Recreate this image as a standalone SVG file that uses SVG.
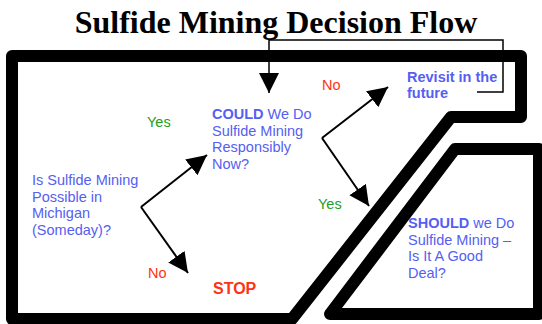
<svg xmlns="http://www.w3.org/2000/svg" width="542" height="324" viewBox="0 0 542 324">
<style>
.frame{fill:none;stroke:#000;stroke-width:12;stroke-linejoin:round}
.t{font-family:"Liberation Sans",Arial,sans-serif;font-size:14.5px}
.blue{fill:#5560f2}
.green{fill:#22a022}
.red{fill:#ff3311}
.b{font-weight:bold}
.conn{fill:none;stroke:#000;stroke-width:2}
.thin{fill:none;stroke:#000;stroke-width:1.5}
</style>
<defs>
<marker id="ah" markerUnits="userSpaceOnUse" markerWidth="22" markerHeight="22" viewBox="0 0 22 22" refX="20" refY="10" orient="auto">
<path d="M0,0 L20,10 L0,20 Z" fill="#000"/>
</marker>
</defs>
<rect width="542" height="324" fill="#fff"/>
<text x="276" y="33" text-anchor="middle" font-family="Liberation Serif,'Times New Roman',serif" font-weight="bold" font-size="32">Sulfide Mining Decision Flow</text>
<g id="frame-main"><path class="frame" d="M12,56 L521,56 L521,117 L451,117 L292,319 L12,319 Z"/></g>
<g id="frame-should"><path class="frame" d="M455,149 L539,149 L539,314 L330,314 Z"/></g>
<g id="connectors">
<polyline class="conn" points="141,207 207,155" marker-end="url(#ah)"/>
<polyline class="conn" points="141,207 188,273" marker-end="url(#ah)"/>
<polyline class="conn" points="322,138 388,87" marker-end="url(#ah)"/>
<polyline class="conn" points="322,138 369,206" marker-end="url(#ah)"/>
<polyline class="thin" points="477,92 503,92 503,40 269,40 269,93" marker-end="url(#ah)"/>
</g>
<g id="node-possible"><text class="t blue"><tspan x="32" y="185">Is Sulfide Mining</tspan><tspan x="32" y="201.5">Possible in</tspan><tspan x="32" y="218">Michigan</tspan><tspan x="32" y="234.5">(Someday)?</tspan></text></g>
<g id="node-could"><text class="t blue"><tspan x="212" y="119"><tspan class="b">COULD</tspan> We Do</tspan><tspan x="212" y="135.5">Sulfide Mining</tspan><tspan x="212" y="152">Responsibly</tspan><tspan x="212" y="168.5">Now?</tspan></text></g>
<g id="node-stop"><text class="t red b" x="213" y="294" style="font-size:16px">STOP</text></g>
<g id="node-revisit"><text class="t blue b"><tspan x="407" y="82">Revisit in the</tspan><tspan x="407" y="98">future</tspan></text></g>
<g id="node-should"><text class="t blue"><tspan x="408" y="228"><tspan class="b">SHOULD</tspan> we Do</tspan><tspan x="408" y="244.5">Sulfide Mining –</tspan><tspan x="408" y="261">Is It A Good</tspan><tspan x="408" y="277.5">Deal?</tspan></text></g>
<g id="labels">
<text class="t green" x="147" y="127">Yes</text>
<text class="t red" x="148" y="278">No</text>
<text class="t red" x="322" y="90">No</text>
<text class="t green" x="318" y="209">Yes</text>
</g>
</svg>
